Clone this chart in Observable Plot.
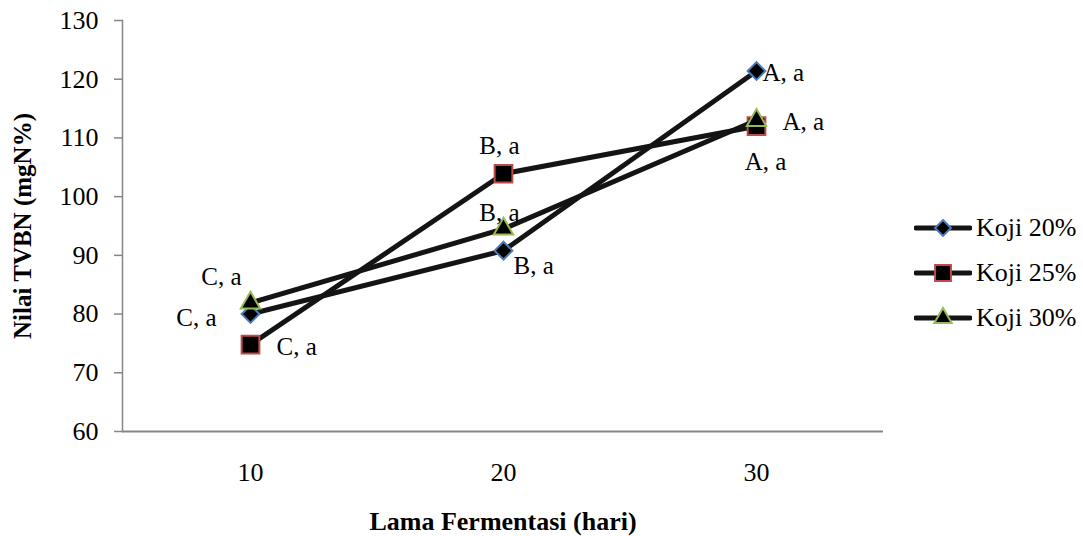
<!DOCTYPE html>
<html>
<head>
<meta charset="utf-8">
<script src="https://cdn.jsdelivr.net/npm/d3@7"></script>
<script src="https://cdn.jsdelivr.net/npm/@observablehq/plot@0.6"></script>
<style>
  body { margin: 0; background: #fff; }
  #wrap { position: relative; width: 1083px; height: 536px; font-family: "Liberation Serif", "Times New Roman", serif; }
  #legend { position: absolute; left: 914px; top: 205px; }
  .item { display: flex; align-items: center; height: 45px; font-size: 26px; color: #000; font-family: "Liberation Serif", "Times New Roman", serif; }
  .item svg { margin-right: 4px; }
</style>
</head>
<body>
<div id="wrap"></div>
<script>
// ---- data ----
const days = [10, 20, 30];
const seriesNames = ["Koji 20%", "Koji 25%", "Koji 30%"];
const koji20 = [80.0, 90.8, 121.4];
const koji25 = [74.8, 103.9, 112.0];
const koji30 = [81.9, 94.5, 113.0];
const notation20 = ["C, a", "B, a", "A, a"];
const notation25 = ["C, a", "B, a", "A, a"];
const notation30 = ["C, a", "B, a", "A, a"];
const yTicks = [60, 70, 80, 90, 100, 110, 120, 130];
const xTitle = "Lama Fermentasi (hari)";
const yTitle = "Nilai TVBN (mgN%)";

// ---- styling / layout ----
const serif = "Liberation Serif";
const seriesStroke = ["#4a7ebb", "#be4b48", "#98b954"];
const seriesSymbol = ["diamond2", "square", "triangle"];
const seriesR = [8, 10, 7.2];
const lineColor = "#141414";
const axisColor = "#868686";
// label placement (offsets in px from each point): [series][day]
const labelPlacement = [
  [{dx: -34, dy: 4, a: "end"}, {dx: 10, dy: 15, a: "start"}, {dx: 6, dy: 2, a: "start"}],
  [{dx: 26, dy: 2, a: "start"}, {dx: -4, dy: -28, a: "middle"}, {dx: 9, dy: 36, a: "middle"}],
  [{dx: -9, dy: -26, a: "end"}, {dx: -4, dy: -16, a: "middle"}, {dx: 26, dy: 2, a: "start"}]
];

const values = [koji20, koji25, koji30];
const notations = [notation20, notation25, notation30];
const rows = seriesNames.flatMap((s, i) => days.map((d, j) => ({series: s, day: d, value: values[i][j], note: notations[i][j], si: i, dj: j})));

const marks = [
  Plot.frame({anchor: "left", stroke: axisColor, strokeWidth: 1.5}),
  Plot.ruleY([60], {stroke: axisColor, strokeWidth: 2}),
  Plot.axisY({ticks: yTicks, tickSize: 8, tickPadding: 16, stroke: axisColor, strokeWidth: 1.5, fontSize: 26, fontFamily: serif, fill: "#000", label: null, tickFormat: d => String(d)}),
  Plot.axisY({ticks: [], tickSize: 0, label: yTitle, labelAnchor: "center", labelArrow: "none", labelOffset: 109, fontWeight: "bold", fontSize: 25, fontFamily: serif, fill: "#000"}),
  Plot.axisX({tickSize: 0, tickPadding: 31, fontSize: 26, fontFamily: serif, fill: "#000", label: null, tickFormat: d => String(d)}),
  Plot.axisX({ticks: [], tickSize: 0, label: xTitle, labelAnchor: "center", labelArrow: "none", labelOffset: 98, fontWeight: "bold", fontSize: 26, fontFamily: serif, fill: "#000"})
];

seriesNames.forEach((s, i) => {
  const data = rows.filter(r => r.si === i);
  marks.push(Plot.line(data, {x: "day", y: "value", stroke: lineColor, strokeWidth: 5}));
  marks.push(Plot.dot(data, {x: "day", y: "value", symbol: () => seriesSymbol[i], r: seriesR[i], fill: "#000", stroke: seriesStroke[i], strokeWidth: 2}));
});

rows.forEach(r => {
  const p = labelPlacement[r.si][r.dj];
  marks.push(Plot.text([r], {x: "day", y: "value", text: "note", dx: p.dx, dy: p.dy, textAnchor: p.a, fontSize: 25, fontFamily: serif, fill: "#000"}));
});

const chart = Plot.plot({
  width: 1083,
  height: 536,
  marginLeft: 122,
  marginRight: 200,
  marginTop: 20,
  marginBottom: 105,
  style: {fontFamily: "'Liberation Serif', 'Times New Roman', serif", color: "#000", background: "#fff", overflow: "visible"},
  x: {type: "point", domain: days, padding: 0.5},
  y: {domain: [60, 130]},
  symbol: {domain: seriesSymbol, range: seriesSymbol},
  marks
});

const wrap = document.getElementById("wrap");
wrap.appendChild(chart);

// legend
const legend = document.createElement("div");
legend.id = "legend";
const symbolTypes = {diamond2: d3.symbolDiamond2, square: d3.symbolSquare, triangle: d3.symbolTriangle};
seriesNames.forEach((s, i) => {
  const item = document.createElement("div");
  item.className = "item";
  const svg = d3.create("svg").attr("width", 58).attr("height", 24);
  svg.append("line").attr("x1", 2).attr("x2", 56).attr("y1", 12).attr("y2", 12)
    .attr("stroke", lineColor).attr("stroke-width", 5).attr("stroke-linecap", "round");
  svg.append("path").attr("transform", "translate(29,12)")
    .attr("d", d3.symbol(symbolTypes[seriesSymbol[i]], Math.PI * seriesR[i] * seriesR[i] * 0.8)())
    .attr("fill", "#000").attr("stroke", seriesStroke[i]).attr("stroke-width", 2);
  item.appendChild(svg.node());
  const label = document.createElement("span");
  label.textContent = s;
  item.appendChild(label);
  legend.appendChild(item);
});
wrap.appendChild(legend);
</script>
</body>
</html>
